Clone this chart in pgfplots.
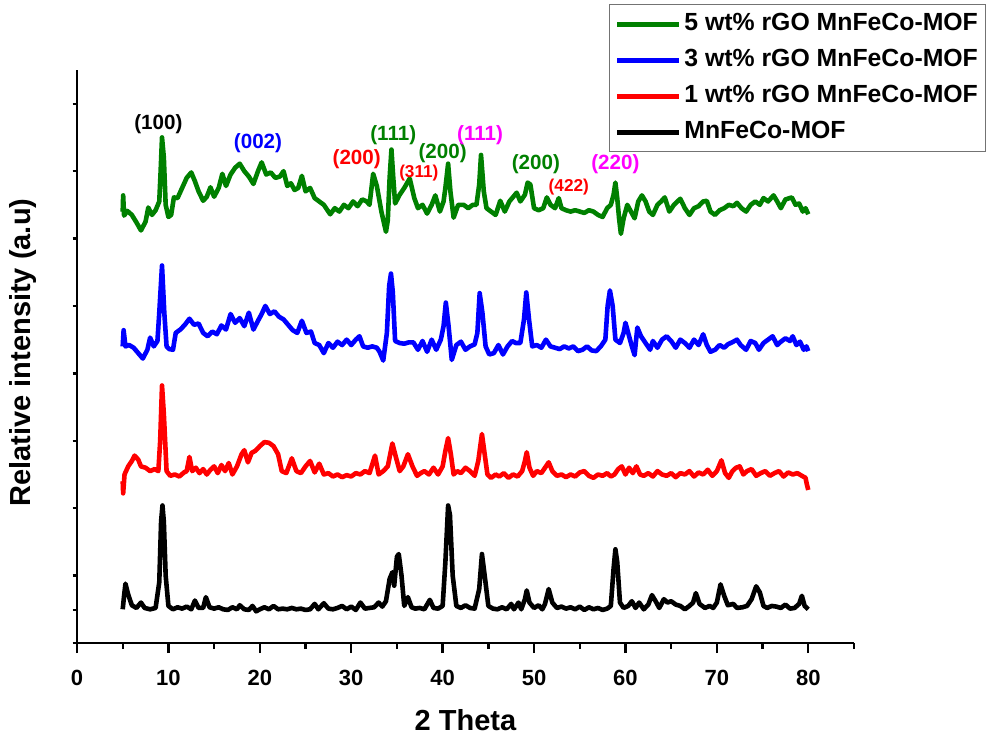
\documentclass[border=0pt]{standalone}
\usepackage{fontspec}
\setmainfont{Liberation Sans}
\usepackage{pgfplots}
\pgfplotsset{compat=1.18}
\definecolor{xgreen}{RGB}{0,128,0}
\definecolor{xblue}{RGB}{0,0,255}
\definecolor{xred}{RGB}{255,0,0}
\definecolor{xmag}{RGB}{255,0,255}
\newcommand{\lab}{\bfseries\fontsize{10.3}{12}\selectfont}
\newcommand{\slab}{\bfseries\fontsize{8.6}{10}\selectfont}
\begin{document}
\begin{tikzpicture}
\begin{axis}[
    scale only axis,
    width=388.5pt,
    height=286.5pt,
    xmin=0, xmax=85,
    ymin=0, ymax=8.5,
    axis x line*=bottom,
    axis y line*=left,
    axis line style={-, line width=1.3pt},
    every tick/.style={black, line width=1.2pt},
    tick align=outside,
    xtick={0,10,...,80},
    minor xtick={5,15,...,85},
    xtick style={/pgfplots/major tick length=5pt, /pgfplots/minor tick length=3pt},
    ytick={0,1,...,8},
    yticklabels={},
    ytick style={/pgfplots/major tick length=2.2pt},
    extra y ticks={0.49},
    extra y tick labels={},
    extra y tick style={/pgfplots/major tick length=5pt},
    /pgf/number format/assume math mode=true,
    ticklabel style={font=\bfseries\fontsize{11}{13}\selectfont},
    xticklabel style={yshift=-6pt},
    xlabel={2 Theta},
    ylabel={Relative intensity (a.u)},
    label style={font=\bfseries\fontsize{14.5}{17}\selectfont},
    xlabel style={at={(axis description cs:0.5,-0.134)}, anchor=center},
    ylabel style={at={(axis description cs:-0.0695,0.507)}, anchor=center},
    clip=false,
    every axis plot/.append style={line width=2.3pt, line join=round},
    legend style={
        at={(rel axis cs:0.685,1.115)}, anchor=north west,
        draw=black!55, line width=0.6pt,
        font=\bfseries\fontsize{12.4}{14}\selectfont,
        inner sep=2.5pt,
        row sep=3.5pt,
        nodes={inner sep=1.5pt, text height=9pt, text depth=2.5pt},
        cells={anchor=west},
    },
    legend image code/.code={\draw[#1] (0pt,0pt) -- (31pt,0pt);},
]
% 5 wt% rGO
\addplot[xgreen] coordinates {
(5.0,6.40) (5.05,6.64) (5.15,6.34) (5.5,6.41) (6.0,6.35) (6.5,6.24) (7.0,6.12) (7.5,6.25) (7.8,6.46) (8.2,6.35) (8.6,6.42) (9.0,6.55) (9.15,7.00) (9.3,7.50) (9.5,7.20) (9.7,6.50) (10.0,6.32) (10.3,6.35) (10.6,6.61) (11.0,6.60) (11.5,6.75) (12.0,6.90) (12.5,6.98) (12.9,6.85) (13.3,6.70) (13.8,6.56) (14.2,6.62) (14.6,6.76) (15.0,6.62) (15.5,6.75) (15.9,6.96) (16.3,6.78) (16.8,6.95) (17.3,7.05) (17.8,7.11) (18.3,7.00) (18.8,6.92) (19.3,6.81) (19.8,7.00) (20.2,7.13) (20.7,6.95) (21.2,6.98) (21.7,6.90) (22.2,6.92) (22.6,7.00) (23.0,6.78) (23.4,6.82) (23.8,6.72) (24.2,6.75) (24.6,6.93) (25.0,6.70) (25.5,6.75) (26.0,6.60) (26.5,6.55) (27.0,6.50) (27.4,6.42) (27.7,6.36) (28.2,6.45) (28.7,6.40) (29.2,6.50) (29.7,6.45) (30.2,6.55) (30.7,6.48) (31.2,6.58) (31.7,6.55) (32.0,6.50) (32.4,6.96) (32.8,6.78) (33.3,6.40) (33.8,6.10) (34.0,6.27) (34.2,6.90) (34.4,7.32) (34.6,6.90) (34.8,6.52) (35.3,6.65) (35.8,6.75) (36.4,6.89) (36.9,6.60) (37.3,6.45) (37.8,6.50) (38.3,6.37) (38.8,6.50) (39.2,6.64) (39.7,6.40) (40.1,6.55) (40.3,6.75) (40.6,7.11) (40.85,6.70) (41.2,6.31) (41.7,6.50) (42.3,6.50) (42.8,6.45) (43.3,6.50) (43.7,6.50) (44.0,6.80) (44.2,7.24) (44.5,6.70) (44.8,6.45) (45.3,6.40) (45.8,6.35) (46.3,6.56) (46.8,6.40) (47.3,6.55) (48.1,6.68) (48.5,6.55) (49.0,6.65) (49.3,6.83) (49.6,6.80) (50.0,6.45) (50.5,6.42) (51.0,6.45) (51.4,6.61) (51.8,6.50) (52.3,6.45) (52.7,6.60) (53.0,6.45) (53.5,6.42) (54.0,6.40) (54.5,6.42) (55.0,6.40) (55.5,6.38) (56.0,6.42) (56.5,6.40) (57.0,6.35) (57.5,6.32) (58.0,6.45) (58.4,6.50) (58.7,6.65) (58.9,6.83) (59.1,6.60) (59.3,6.30) (59.5,6.07) (59.8,6.30) (60.2,6.50) (60.6,6.40) (61.0,6.30) (61.4,6.55) (61.8,6.64) (62.2,6.55) (62.6,6.40) (63.0,6.35) (63.5,6.50) (63.9,6.55) (64.3,6.61) (64.8,6.40) (65.3,6.50) (66.0,6.59) (66.5,6.45) (67.0,6.35) (67.5,6.45) (68.0,6.48) (68.5,6.55) (68.9,6.56) (69.3,6.40) (69.8,6.35) (70.3,6.42) (70.8,6.45) (71.3,6.50) (71.8,6.48) (72.2,6.53) (72.7,6.45) (73.2,6.40) (73.7,6.50) (74.2,6.55) (74.7,6.50) (75.1,6.60) (75.6,6.55) (76.2,6.64) (76.6,6.55) (77.0,6.45) (77.5,6.58) (78.2,6.61) (78.6,6.50) (79.0,6.52) (79.4,6.40) (79.7,6.45) (80.0,6.36)
};
\addlegendentry{5 wt\% rGO MnFeCo-MOF}
% 3 wt% rGO
\addplot[xblue] coordinates {
(5.0,4.40) (5.1,4.64) (5.3,4.40) (5.7,4.42) (6.2,4.38) (6.7,4.30) (7.2,4.22) (7.7,4.35) (8.0,4.53) (8.4,4.40) (8.8,4.48) (9.0,4.90) (9.3,5.60) (9.55,4.90) (9.8,4.40) (10.1,4.36) (10.5,4.35) (10.8,4.60) (11.3,4.65) (11.8,4.72) (12.3,4.81) (12.8,4.72) (13.3,4.74) (13.8,4.60) (14.3,4.55) (14.8,4.62) (15.3,4.58) (15.8,4.71) (16.3,4.65) (16.8,4.88) (17.3,4.75) (17.8,4.82) (18.3,4.70) (18.8,4.90) (19.3,4.65) (19.8,4.78) (20.2,4.88) (20.6,5.00) (21.1,4.88) (21.6,4.92) (22.1,4.84) (22.6,4.80) (23.1,4.72) (23.6,4.64) (24.1,4.60) (24.6,4.78) (25.1,4.60) (25.6,4.62) (26.0,4.45) (26.5,4.42) (27.0,4.30) (27.5,4.45) (28.0,4.38) (28.5,4.47) (29.0,4.42) (29.5,4.50) (30.0,4.42) (30.5,4.50) (30.9,4.55) (31.3,4.40) (31.8,4.38) (32.3,4.40) (32.8,4.38) (33.1,4.32) (33.5,4.19) (33.9,4.60) (34.15,5.30) (34.35,5.48) (34.55,5.20) (34.8,4.48) (35.3,4.45) (35.8,4.44) (36.3,4.46) (36.8,4.46) (37.3,4.35) (37.8,4.48) (38.3,4.32) (38.8,4.50) (39.3,4.35) (39.8,4.50) (40.1,4.70) (40.35,5.05) (40.65,4.70) (41.0,4.20) (41.5,4.42) (42.0,4.47) (42.5,4.35) (43.0,4.40) (43.5,4.43) (43.8,4.60) (44.05,5.19) (44.35,4.90) (44.7,4.40) (45.1,4.28) (45.6,4.30) (46.1,4.42) (46.6,4.28) (47.1,4.40) (47.6,4.48) (48.0,4.45) (48.5,4.45) (48.9,4.80) (49.15,5.20) (49.45,4.80) (49.8,4.40) (50.3,4.42) (50.8,4.38) (51.3,4.50) (51.8,4.40) (52.3,4.38) (52.8,4.36) (53.3,4.40) (53.8,4.37) (54.3,4.40) (54.8,4.33) (55.3,4.35) (55.8,4.40) (56.3,4.34) (56.8,4.33) (57.3,4.40) (57.8,4.50) (58.05,5.00) (58.3,5.23) (58.6,5.00) (58.9,4.50) (59.4,4.45) (59.8,4.60) (60.0,4.75) (60.4,4.55) (60.7,4.40) (61.0,4.27) (61.3,4.68) (61.7,4.55) (62.2,4.45) (62.7,4.35) (63.0,4.48) (63.5,4.38) (64.0,4.50) (64.5,4.55) (65.0,4.48) (65.5,4.38) (66.0,4.50) (66.5,4.45) (67.0,4.38) (67.5,4.50) (68.0,4.42) (68.5,4.58) (68.9,4.42) (69.3,4.32) (69.8,4.35) (70.3,4.42) (70.8,4.38) (71.2,4.43) (71.8,4.47) (72.2,4.50) (72.6,4.42) (73.2,4.35) (73.7,4.48) (74.2,4.45) (74.6,4.35) (75.1,4.45) (75.6,4.50) (76.1,4.55) (76.6,4.42) (77.0,4.47) (77.5,4.52) (78.0,4.48) (78.3,4.55) (78.7,4.42) (79.1,4.47) (79.5,4.35) (79.8,4.40) (80.0,4.33)
};
\addlegendentry{3 wt\% rGO MnFeCo-MOF}
% 1 wt% rGO
\addplot[xred] coordinates {
(5.0,2.40) (5.05,2.22) (5.2,2.50) (5.6,2.62) (6.0,2.70) (6.3,2.78) (6.7,2.72) (7.0,2.62) (7.5,2.60) (8.0,2.55) (8.5,2.58) (8.9,2.55) (9.1,3.00) (9.3,3.82) (9.5,3.40) (9.8,2.55) (10.2,2.48) (10.7,2.50) (11.2,2.47) (11.7,2.53) (12.0,2.55) (12.3,2.76) (12.6,2.55) (13.0,2.60) (13.4,2.52) (13.8,2.58) (14.2,2.50) (14.6,2.57) (15.0,2.62) (15.4,2.52) (15.8,2.64) (16.2,2.55) (16.6,2.67) (17.0,2.50) (17.5,2.62) (18.0,2.80) (18.3,2.86) (18.7,2.68) (19.1,2.82) (19.5,2.85) (20.0,2.92) (20.5,2.98) (21.0,2.97) (21.5,2.92) (22.0,2.80) (22.4,2.55) (22.9,2.52) (23.5,2.74) (24.0,2.55) (24.5,2.52) (25.0,2.62) (25.5,2.70) (26.0,2.53) (26.5,2.66) (27.0,2.50) (27.5,2.52) (28.0,2.47) (28.5,2.50) (29.0,2.46) (29.5,2.49) (30.0,2.47) (30.5,2.52) (31.0,2.50) (31.5,2.55) (32.0,2.52) (32.6,2.78) (33.0,2.50) (33.5,2.55) (34.0,2.62) (34.5,2.96) (34.9,2.75) (35.3,2.55) (35.7,2.62) (36.2,2.80) (36.7,2.62) (37.2,2.48) (37.6,2.52) (38.0,2.55) (38.5,2.50) (39.0,2.60) (39.5,2.50) (40.0,2.62) (40.3,2.85) (40.6,3.04) (40.9,2.80) (41.2,2.50) (41.6,2.55) (42.0,2.52) (42.5,2.60) (43.0,2.55) (43.5,2.48) (43.9,2.70) (44.3,3.10) (44.6,2.80) (44.9,2.50) (45.3,2.45) (45.8,2.50) (46.2,2.47) (46.7,2.52) (47.2,2.45) (47.7,2.50) (48.2,2.47) (48.7,2.55) (49.0,2.70) (49.2,2.83) (49.5,2.60) (49.9,2.48) (50.3,2.55) (50.8,2.52) (51.2,2.60) (51.6,2.68) (52.0,2.55) (52.5,2.48) (53.0,2.50) (53.5,2.46) (54.0,2.50) (54.5,2.47) (55.0,2.53) (55.5,2.55) (56.0,2.48) (56.5,2.45) (57.0,2.50) (57.5,2.48) (58.0,2.52) (58.4,2.47) (58.8,2.50) (59.2,2.58) (59.6,2.62) (60.0,2.50) (60.4,2.60) (60.8,2.52) (61.2,2.62) (61.6,2.50) (62.0,2.48) (62.5,2.52) (63.0,2.47) (63.5,2.55) (64.0,2.50) (64.5,2.48) (65.0,2.52) (65.5,2.46) (66.0,2.52) (66.5,2.50) (67.0,2.55) (67.5,2.47) (68.0,2.53) (68.5,2.50) (69.0,2.57) (69.5,2.48) (70.0,2.55) (70.5,2.71) (70.9,2.52) (71.3,2.45) (71.7,2.55) (72.1,2.60) (72.5,2.62) (72.9,2.50) (73.3,2.55) (73.8,2.58) (74.3,2.48) (74.8,2.52) (75.3,2.55) (75.8,2.48) (76.3,2.52) (76.8,2.55) (77.3,2.47) (77.8,2.53) (78.3,2.50) (78.8,2.52) (79.3,2.48) (79.7,2.45) (79.85,2.35) (80.0,2.27)
};
\addlegendentry{1 wt\% rGO MnFeCo-MOF}
% MnFeCo-MOF
\addplot[black] coordinates {
(5.0,0.50) (5.15,0.70) (5.3,0.88) (5.6,0.72) (6.0,0.56) (6.5,0.52) (7.0,0.60) (7.4,0.52) (8.0,0.50) (8.6,0.52) (9.0,0.90) (9.2,1.80) (9.35,2.04) (9.5,1.80) (9.7,1.00) (10.0,0.55) (10.5,0.50) (11.0,0.53) (11.5,0.51) (12.0,0.54) (12.5,0.50) (12.9,0.63) (13.3,0.52) (13.8,0.52) (14.1,0.68) (14.5,0.53) (15.0,0.51) (15.5,0.53) (16.0,0.50) (16.5,0.49) (17.0,0.53) (17.5,0.50) (17.8,0.56) (18.3,0.50) (18.8,0.49) (19.2,0.55) (19.6,0.47) (20.0,0.50) (20.5,0.53) (21.0,0.50) (21.5,0.55) (22.0,0.50) (22.5,0.51) (23.0,0.50) (23.5,0.52) (24.0,0.50) (24.5,0.51) (25.0,0.49) (25.5,0.50) (26.0,0.58) (26.4,0.50) (27.0,0.59) (27.5,0.51) (28.0,0.50) (28.5,0.52) (29.0,0.55) (29.5,0.50) (30.0,0.54) (30.5,0.49) (31.0,0.60) (31.5,0.51) (32.0,0.52) (32.5,0.53) (33.0,0.60) (33.4,0.54) (33.8,0.62) (34.2,0.95) (34.5,1.05) (34.7,0.85) (35.0,1.28) (35.2,1.32) (35.5,1.00) (35.8,0.55) (36.2,0.68) (36.6,0.53) (37.0,0.51) (37.5,0.52) (38.0,0.50) (38.6,0.64) (39.0,0.52) (39.5,0.51) (40.0,0.55) (40.3,1.20) (40.6,2.04) (40.8,1.90) (41.1,1.00) (41.5,0.55) (42.0,0.52) (42.5,0.56) (43.0,0.52) (43.5,0.51) (44.0,0.80) (44.3,1.32) (44.6,1.00) (45.0,0.55) (45.5,0.51) (46.0,0.50) (46.5,0.53) (47.0,0.50) (47.5,0.58) (47.8,0.50) (48.3,0.60) (48.6,0.50) (49.0,0.65) (49.2,0.78) (49.5,0.60) (50.0,0.52) (50.5,0.56) (50.9,0.50) (51.2,0.58) (51.6,0.80) (52.0,0.60) (52.5,0.52) (53.0,0.54) (53.5,0.51) (54.0,0.53) (54.5,0.50) (55.0,0.54) (55.5,0.49) (56.0,0.53) (56.5,0.50) (57.0,0.52) (57.5,0.49) (58.0,0.51) (58.4,0.55) (58.7,1.10) (58.9,1.39) (59.1,1.20) (59.4,0.60) (59.8,0.52) (60.3,0.55) (60.7,0.62) (61.1,0.52) (61.5,0.60) (62.0,0.50) (62.5,0.57) (62.9,0.71) (63.3,0.62) (63.7,0.52) (64.2,0.65) (64.6,0.60) (65.0,0.62) (65.5,0.57) (66.0,0.55) (66.5,0.50) (67.0,0.55) (67.4,0.60) (67.7,0.74) (68.1,0.58) (68.7,0.52) (69.2,0.55) (69.6,0.52) (70.0,0.60) (70.4,0.87) (70.8,0.70) (71.2,0.56) (71.8,0.58) (72.2,0.52) (72.8,0.53) (73.3,0.55) (73.8,0.65) (74.3,0.84) (74.7,0.75) (75.1,0.55) (75.5,0.52) (76.0,0.55) (76.5,0.54) (77.0,0.52) (77.5,0.57) (78.0,0.51) (78.5,0.52) (79.0,0.58) (79.3,0.70) (79.6,0.55) (80.0,0.50)
};
\addlegendentry{MnFeCo-MOF}
% peak labels
\node[black, font=\lab] at (axis cs:8.9,7.70) {(100)};
\node[xblue, font=\lab] at (axis cs:19.8,7.41) {(002)};
\node[xred, font=\lab] at (axis cs:30.6,7.18) {(200)};
\node[xgreen, font=\lab] at (axis cs:34.6,7.53) {(111)};
\node[xred, font=\slab] at (axis cs:37.4,6.97) {(311)};
\node[xgreen, font=\lab] at (axis cs:40.0,7.26) {(200)};
\node[xmag, font=\lab] at (axis cs:44.1,7.53) {(111)};
\node[xgreen, font=\lab] at (axis cs:50.2,7.11) {(200)};
\node[xred, font=\slab] at (axis cs:53.8,6.77) {(422)};
\node[xmag, font=\lab] at (axis cs:58.9,7.11) {(220)};
\end{axis}
\path (-38.5pt,-46pt) rectangle (456.5pt,321.5pt);
\end{tikzpicture}
\end{document}
